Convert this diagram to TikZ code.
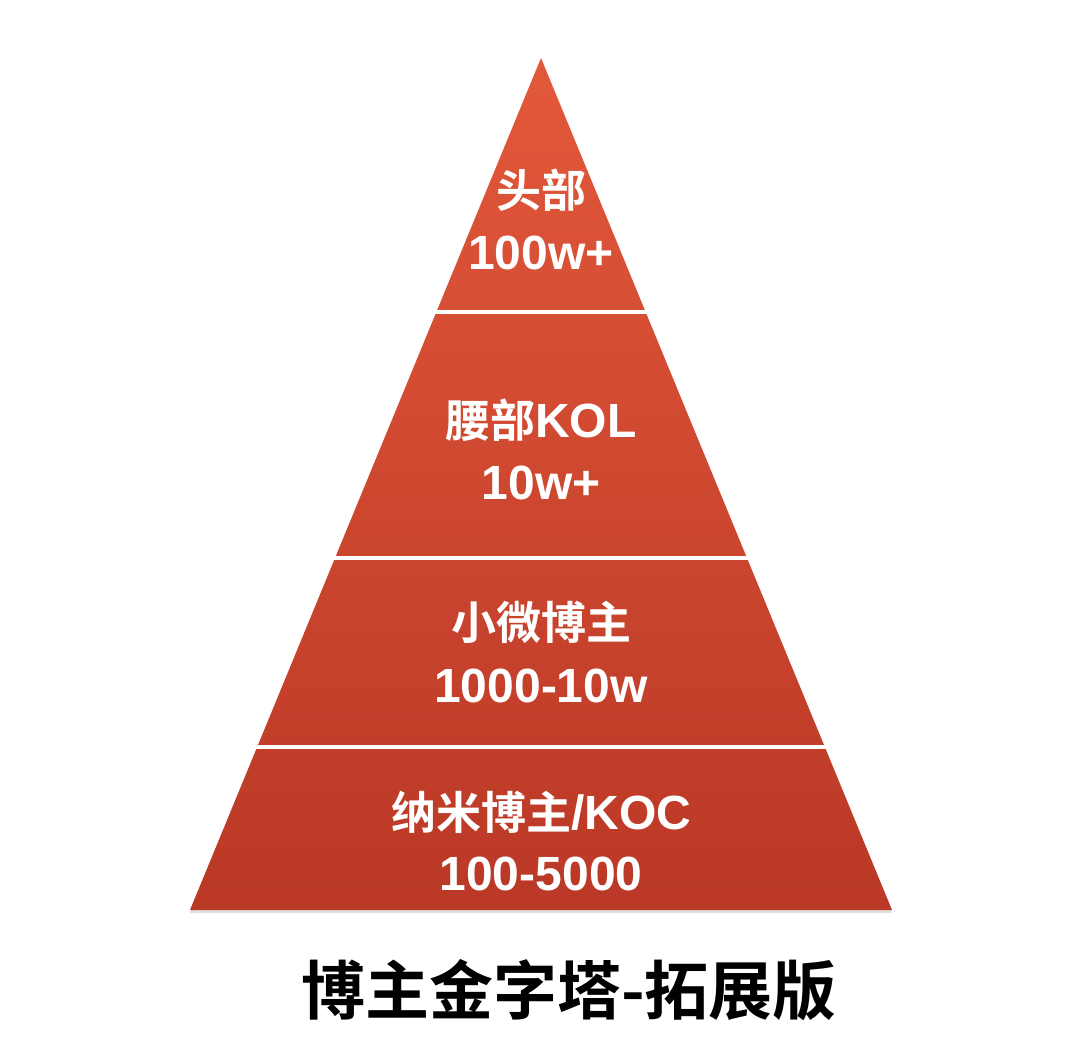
\documentclass[tikz,border=0pt]{standalone}
\usepackage{fontspec}
\setmainfont{Liberation Sans}
\newfontfamily\cjk{Noto Sans CJK SC}[BoldFont={* Bold}]
\usetikzlibrary{shadows}
\definecolor{pyrtop}{RGB}{226,88,58}
\definecolor{pyrbot}{RGB}{186,56,38}
\tikzset{
  lbl/.style={text=white, font=\fontsize{48}{52}\selectfont\bfseries, inner sep=0pt, anchor=center},
  sep/.style={white, line width=4pt},
}
\newcommand{\zh}[1]{{\cjk\bfseries\fontsize{45}{50}\selectfont #1}}
\begin{document}
\begin{tikzpicture}[x=1pt,y=-1pt]
\useasboundingbox (0,0) rectangle (1080,1048);
\fill[white] (0,0) rectangle (1080,1048);
% pyramid
\coordinate (apex) at (541,58);
\coordinate (bl) at (190,910);
\coordinate (br) at (892,910);
\path[top color=pyrtop, bottom color=pyrbot, drop shadow={shadow xshift=0pt, shadow yshift=-3pt, opacity=0.25}] (apex) -- (br) -- (bl) -- cycle;
% separators
\draw[sep] (420,312) -- (662,312);
\draw[sep] (318,558) -- (764,558);
\draw[sep] (240,747) -- (842,747);
% labels
\node[lbl] (t1) at (541,190) {\zh{头部}};
\node[lbl] (n1) at (541,253) {100w+};
\node[lbl] (t2) at (541,420) {\zh{腰部}KOL};
\node[lbl] (n2) at (541,483) {10w+};
\node[lbl] (t3) at (541,622) {\zh{小微博主}};
\node[lbl] (n3) at (541,686) {1000-10w};
\node[lbl] (t4) at (541,812) {\zh{纳米博主}/KOC};
\node[lbl] (n4) at (541,874) {100-5000};
\node[inner sep=0pt] (title) at (569,990) {\cjk\bfseries\fontsize{64}{70}\selectfont 博主金字塔-拓展版};
\end{tikzpicture}
\end{document}
